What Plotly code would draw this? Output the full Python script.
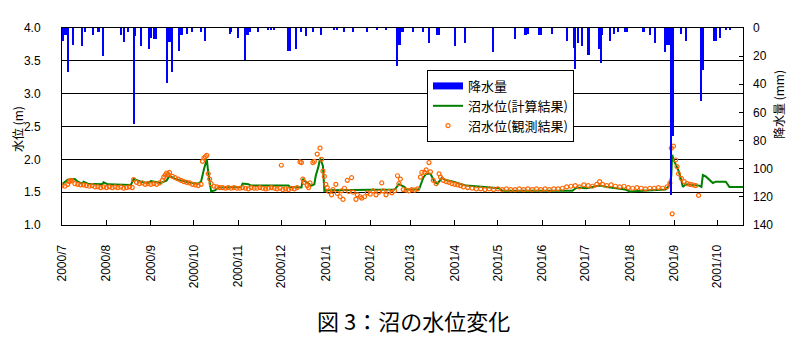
import pandas as pd
import plotly.graph_objects as go

START = pd.Timestamp("2000-07-01")

# precipitation (day offset from 2000-07-01, mm)
rain_day = [1, 2, 3, 4, 8, 14, 16, 22, 25, 26, 29, 41, 43, 46, 50, 51, 55, 61, 62, 64, 66,
            73, 75, 76, 77, 82, 83, 84, 87, 91, 97, 100, 117, 118, 123, 128, 129, 130, 131,
            137, 144, 146, 148, 158, 159, 163, 167, 170, 175, 181, 190, 192, 197, 203, 213,
            220, 226, 234, 235, 236, 237, 238, 245, 252, 256, 262, 263, 274, 281, 301, 316,
            323, 324, 325, 333, 334, 342, 352, 357, 358, 360, 363, 367, 368, 375, 376, 377,
            382, 385, 388, 393, 394, 405, 406, 410, 414, 421, 422, 423, 424, 425, 426, 432,
            435, 446, 447, 455, 456, 459, 463, 466]
rain_mm = [9, 5, 5, 31, 12, 13, 3, 5, 3, 3, 20, 5, 10, 3, 68, 6, 13, 15, 7, 8, 8,
           39, 10, 10, 31, 16, 5, 5, 4, 3, 3, 9, 4, 3, 7, 23, 5, 5, 3,
           3, 1, 1, 1, 16, 16, 15, 3, 6, 3, 5, 1, 1, 3, 3, 3,
           1, 1, 27, 12, 12, 3, 3, 3, 3, 11, 5, 5, 13, 11, 17, 8,
           5, 5, 4, 5, 5, 4, 9, 14, 29, 11, 13, 19, 19, 15, 25, 5,
           9, 4, 3, 3, 3, 3, 3, 5, 11, 17, 12, 12, 12, 119, 77, 4,
           9, 52, 30, 9, 9, 7, 1, 1]

# calculated water level (day offset, m)
calc_day = [0, 2, 4, 9, 11, 14, 15, 18, 28, 29, 32, 48, 50, 55, 60, 62, 69, 73, 75, 79,
            83, 88, 95, 97, 99, 101, 102, 103, 104, 107, 109, 125, 126, 130, 132, 158, 159,
            167, 168, 170, 174, 176, 177, 179, 180, 182, 182.5, 183, 186, 213, 232, 235,
            239, 240, 249, 252, 254, 257, 260, 262, 265, 267, 273, 282, 305, 307, 333,
            356, 359, 366, 375, 380, 393, 396, 421, 423.5, 425, 425.6, 426.5, 428.5, 430,
            432, 433, 435, 444.5, 446, 447, 449, 454, 456, 463, 465.5, 475]
calc_lv = [1.62, 1.65, 1.69, 1.70, 1.66, 1.63, 1.66, 1.63, 1.62, 1.65, 1.62, 1.61, 1.70,
           1.66, 1.64, 1.67, 1.64, 1.68, 1.75, 1.70, 1.68, 1.65, 1.63, 1.66, 1.85, 2.00,
           1.80, 1.62, 1.51, 1.53, 1.57, 1.58, 1.63, 1.62, 1.60, 1.60, 1.58, 1.57, 1.70,
           1.66, 1.60, 1.62, 1.75, 1.90, 2.02, 1.90, 1.70, 1.52, 1.53, 1.53, 1.54, 1.62,
           1.58, 1.54, 1.54, 1.72, 1.78, 1.78, 1.65, 1.63, 1.72, 1.69, 1.66, 1.60, 1.56,
           1.52, 1.52, 1.52, 1.57, 1.56, 1.60, 1.58, 1.54, 1.51, 1.54, 1.60, 1.75, 2.07,
           2.00, 1.90, 1.83, 1.68, 1.58, 1.62, 1.60, 1.58, 1.76, 1.74, 1.64, 1.66, 1.66,
           1.58, 1.58]

# observed water level (day offset, m)
obs_day = [0, 2, 4, 5, 6, 7, 9, 11, 13, 15, 17, 19, 21, 23, 25, 27, 29,
           31, 33, 35, 37, 39, 41, 43, 45, 47, 49, 50, 52, 54, 56, 58, 60,
           62, 64, 66, 68, 70, 71, 72, 73, 74, 75, 77, 79, 81, 83, 85, 87, 89, 91,
           93, 95, 97, 98, 99, 100, 101, 102, 103, 104, 106, 108, 110, 112, 114, 116, 118,
           120, 122, 124, 126, 128, 130, 132, 134, 136, 138, 140, 142, 144, 146, 148, 150,
           152, 153, 154, 156, 158, 160, 162, 164, 166, 167, 168, 169, 171, 172, 173, 175,
           176, 178, 180, 181, 182, 183, 184, 185, 186, 188, 189, 191, 192, 194, 195, 196,
           197, 199, 200, 202, 203, 205, 206, 208, 209, 211, 213, 215, 217, 219, 221, 223,
           224, 226, 228, 230, 232, 234, 235, 236, 238, 240, 242, 244, 246, 248, 250, 251,
           253, 254, 256, 257, 259, 261, 263, 264, 266, 268, 270, 272, 274, 276, 278, 280,
           283, 286, 289, 292, 295, 298, 301, 304, 307, 310, 313, 316, 319, 322, 325, 328,
           331, 334, 337, 340, 343, 346, 349, 352, 355, 358, 361, 364, 367, 370, 373, 375,
           377, 380, 383, 386, 389, 392, 395, 398, 401, 404, 407, 410, 413, 416, 419, 422,
           424, 425, 425.6, 426.5, 428, 429, 430, 432, 434, 436, 438, 440, 442, 444]
obs_lv = [1.60, 1.59, 1.62, 1.66, 1.68, 1.67, 1.63, 1.62, 1.61, 1.61, 1.60, 1.59, 1.60,
          1.58, 1.58, 1.57, 1.58,
          1.57, 1.58, 1.57, 1.58, 1.57, 1.58, 1.56, 1.57, 1.58, 1.57, 1.69, 1.65, 1.63,
          1.64, 1.62, 1.63,
          1.62, 1.63, 1.62, 1.64, 1.68, 1.73, 1.76, 1.79, 1.77, 1.80, 1.74, 1.72, 1.70,
          1.68, 1.66, 1.65, 1.64, 1.62,
          1.61, 1.60, 1.62, 1.97, 2.02, 2.04, 2.06, 1.78, 1.70, 1.63, 1.59, 1.58, 1.57,
          1.57, 1.56, 1.57, 1.56,
          1.57, 1.56, 1.56, 1.57, 1.56, 1.55, 1.57, 1.56, 1.56, 1.57, 1.56, 1.55, 1.56,
          1.57, 1.56, 1.55,
          1.56, 1.91, 1.54, 1.55, 1.54, 1.56, 1.55, 1.57, 1.96, 1.95, 1.70, 1.65, 1.60,
          1.57, 1.64, 1.95,
          1.97, 2.08, 2.17, 2.00, 1.82, 1.74, 1.62, 1.57, 1.51, 1.46, 1.54, 1.62, 1.48,
          1.43, 1.52, 1.39,
          1.56, 1.68, 1.51, 1.72, 1.50, 1.39, 1.46, 1.43, 1.41, 1.43, 1.49, 1.47, 1.52,
          1.46, 1.50, 1.64,
          1.52, 1.46, 1.51, 1.49, 1.52, 1.75, 1.63, 1.70, 1.54, 1.53, 1.52, 1.54, 1.53,
          1.55, 1.73, 1.80,
          1.80, 1.84, 1.95, 1.81, 1.68, 1.63, 1.78, 1.73, 1.68, 1.66, 1.65, 1.63, 1.62,
          1.61, 1.60, 1.58,
          1.57, 1.56, 1.55, 1.55, 1.54, 1.55, 1.54, 1.55, 1.54, 1.55, 1.54, 1.54, 1.55,
          1.54, 1.55, 1.54,
          1.55, 1.54, 1.55, 1.54, 1.55, 1.55, 1.56, 1.58, 1.59, 1.60, 1.58, 1.61, 1.60,
          1.59, 1.62, 1.66,
          1.62, 1.60, 1.61, 1.59, 1.58, 1.59, 1.57, 1.56, 1.57, 1.56, 1.55, 1.56, 1.56,
          1.57, 1.56, 1.58,
          1.64, 2.17, 1.17, 2.20, 1.99, 1.89, 1.78, 1.71, 1.66, 1.63, 1.62, 1.61, 1.60, 1.45]

month_ticks = ["2000-07-01", "2000-08-01", "2000-09-01", "2000-10-01", "2000-11-01",
               "2000-12-01", "2001-01-01", "2001-02-01", "2001-03-01", "2001-04-01",
               "2001-05-01", "2001-06-01", "2001-07-01", "2001-08-01", "2001-09-01",
               "2001-10-01"]
month_labels = ["2000/7", "2000/8", "2000/9", "2000/10", "2000/11", "2000/12", "2001/1",
                "2001/2", "2001/3", "2001/4", "2001/5", "2001/6", "2001/7", "2001/8",
                "2001/9", "2001/10"]


def to_dates(days):
    return [START + pd.Timedelta(days=d) for d in days]


JP = "Noto Sans CJK JP"
NUM = "Liberation Sans"

fig = go.Figure()
fig.add_trace(go.Bar(x=to_dates(rain_day), y=rain_mm, yaxis="y2", name="降水量",
                     marker=dict(color="#0000FF", line=dict(width=0)),
                     width=86400000 * 0.9, showlegend=False))
# legend entry for precipitation: wide blue rectangle
fig.add_trace(go.Scatter(x=[None], y=[None], mode="lines", name="降水量",
                         line=dict(color="#0000FF", width=7), legendrank=1))
fig.add_trace(go.Scatter(x=to_dates(calc_day), y=calc_lv, mode="lines",
                         name="沼水位(計算結果)", line=dict(color="#008000", width=2),
                         legendrank=2))
fig.add_trace(go.Scatter(x=to_dates(obs_day), y=obs_lv, mode="markers",
                         name="沼水位(観測結果)",
                         marker=dict(symbol="circle-open", size=4, color="#FF6600",
                                     line=dict(width=1.2, color="#FF6600")),
                         legendrank=3))

fig.update_layout(
    width=805, height=346,
    margin=dict(l=62, r=62, t=28, b=121),
    paper_bgcolor="white", plot_bgcolor="white",
    bargap=0,
    showlegend=True,
    legend=dict(x=0.536, y=0.787, xanchor="left", yanchor="top",
                bgcolor="white", bordercolor="black", borderwidth=1,
                font=dict(family=JP, size=13, color="black"),
                tracegroupgap=0, itemwidth=30),
    xaxis=dict(type="date", range=["2000-07-01", "2001-10-19"],
               tickvals=month_ticks, ticktext=month_labels, tickangle=-90,
               ticks="inside", ticklen=5, tickcolor="black",
               showline=True, linecolor="black", linewidth=1, mirror=True,
               showgrid=False, zeroline=False, ticklabelstandoff=14,
               tickfont=dict(family=NUM, size=12, color="black")),
    yaxis=dict(range=[1.0, 4.0], tickvals=[1.0, 1.5, 2.0, 2.5, 3.0, 3.5, 4.0],
               ticktext=["1.0", "1.5", "2.0", "2.5", "3.0", "3.5", "4.0"],
               showgrid=True, gridcolor="black", gridwidth=1,
               showline=True, linecolor="black", linewidth=1, mirror=True,
               ticks="", zeroline=False, ticklabelstandoff=18,
               tickfont=dict(family=NUM, size=12, color="black")),
    yaxis2=dict(range=[140, 0], overlaying="y", side="right",
                tickvals=[0, 20, 40, 60, 80, 100, 120, 140],
                ticks="inside", ticklen=4, tickcolor="black",
                showgrid=False, zeroline=False, showline=False,
                ticklabelstandoff=9,
                tickfont=dict(family=NUM, size=12, color="black")),
    annotations=[
        dict(text="水位 (m)", xref="paper", yref="paper", x=(17 - 62) / 681, y=(225 - 129) / 197,
             textangle=-90, showarrow=False, xanchor="center", yanchor="middle",
             font=dict(family=JP, size=12, color="black")),
        dict(text="降水量 (mm)", xref="paper", yref="paper", x=(779 - 62) / 681,
             y=(225 - 105) / 197, textangle=-90, showarrow=False,
             xanchor="center", yanchor="middle",
             font=dict(family=JP, size=12, color="black")),
        dict(text="図 3：沼の水位変化", xref="paper", yref="paper", x=(413 - 62) / 681,
             y=(225 - 320) / 197, showarrow=False, xanchor="center", yanchor="middle",
             font=dict(family=JP, size=22, color="black")),
    ],
)

fig.write_html("out.html")
